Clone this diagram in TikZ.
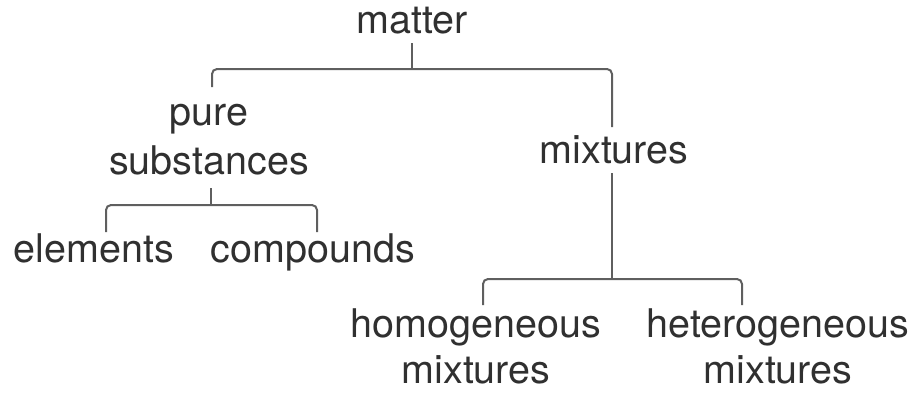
\documentclass[tikz,border=0pt]{standalone}
\usepackage{fontspec}
\setmainfont{TeX Gyre Heros}
\definecolor{txtc}{RGB}{48,48,48}
\definecolor{linec}{RGB}{95,95,95}
\begin{document}
\begin{tikzpicture}[x=1pt,y=-1pt,
  lbl/.style={anchor=base,inner sep=0pt,text=txtc,font=\fontsize{39.5}{46}\selectfont},
  conn/.style={draw=linec,line width=2pt,rounded corners=5pt}]
\useasboundingbox (0,0) rectangle (917,392);
\node[lbl] (matter) at (412,33) {matter};
\node[lbl] (pure) at (209,125) {\fontsize{39.5}{49}\selectfont\begin{tabular}[t]{@{}c@{}}pure\\substances\end{tabular}};
\node[lbl] (mix) at (614,163) {mixtures};
\node[lbl] (elements) at (94,262) {elements};
\node[lbl] (compounds) at (313,262) {compounds};
\node[lbl] (homo) at (476,337) {\begin{tabular}[t]{@{}c@{}}homogeneous\\mixtures\end{tabular}};
\node[lbl] (hetero) at (778,337) {\begin{tabular}[t]{@{}c@{}}heterogeneous\\mixtures\end{tabular}};
\coordinate (j1) at (412,69);
\coordinate (j2) at (211,205);
\coordinate (j3) at (612,279);
\draw[conn] ([yshift=-10pt]matter.base) -- (j1);
\draw[conn] ([xshift=3pt,yshift=38pt]pure.base) |- (j1) -| ([xshift=-2pt,yshift=36pt]mix.base);
\draw[conn] ([xshift=2pt,yshift=-63pt]pure.base) -- (j2);
\draw[conn] ([xshift=12pt,yshift=30pt]elements.base) |- (j2) -| ([xshift=4pt,yshift=30pt]compounds.base);
\draw[conn] ([xshift=-2pt,yshift=-10pt]mix.base) -- (j3);
\draw[conn] ([xshift=7pt,yshift=32pt]homo.base) |- (j3) -| ([xshift=-36pt,yshift=32pt]hetero.base);
\end{tikzpicture}
\end{document}
